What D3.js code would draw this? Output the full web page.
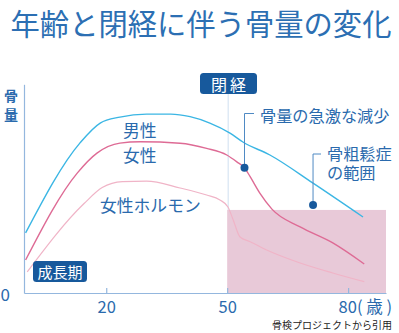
<!DOCTYPE html>
<html><head><meta charset="utf-8">
<script src="https://cdn.jsdelivr.net/npm/d3@7"></script>
<style>
html,body{margin:0;padding:0;background:#fff;}
text{font-family:"Noto Sans CJK JP","Noto Sans",sans-serif;}
</style></head>
<body>
<svg id="c" width="399" height="333"></svg>
<script>
// ---- data (age in years, bone mass in arbitrary units) ----
const maleAge   = [0, 13.5, 18.5, 23.4, 30, 36, 40.8, 45.7, 50.7, 53.9, 60.6, 71.3, 83.7];
const maleVal   = [28.2, 70.5, 79.8, 82.6, 84, 84, 82.8, 79.8, 75.1, 70.9, 64.8, 51.6, 35.7];
const femaleAge = [0, 12.8, 17.7, 23.4, 28.4, 38.3, 44.9, 49.9, 52.4, 54.3, 55.7, 58.1, 61.1, 68.1, 76.2, 84];
const femaleVal = [15.5, 56.3, 65.7, 70.4, 71, 70.3, 67.9, 64.8, 61.6, 58.8, 54.6, 46.9, 39.4, 31, 23.5, 13.6];
const hormoneAge = [0.4, 14.5, 19, 24, 30, 38.3, 44.9, 48.2, 50.2, 51.5, 53.2, 55.7, 59.8, 68.1, 76.2, 84];
const hormoneVal = [9.9, 42, 49.5, 52.3, 52.5, 49.3, 46, 43.7, 40.4, 34.3, 26.3, 24.1, 20.2, 14.1, 9.4, 5.3];
const xTicks = [20, 50, 80];
const menopauseAge = 50;
const osteoThreshold = 39;          // osteoporosis range upper bound
const seriesLabels = ["男性", "女性", "女性ホルモン"];
const title = "年齢と閉経に伴う骨量の変化";
const yLabel = ["骨", "量"];
const annotations = [
  {age: 54.3, value: 58.8, lines: ["骨量の急激な減少"]},
  {age: 71.3, value: 41.3, lines: ["骨粗鬆症", "の範囲"]}
];

// ---- drawing ----
const svg = d3.select("#c");
const x = d3.scaleLinear().domain([-0.4, 89.4]).range([24, 386]);
const y = d3.scaleLinear().domain([0, 98]).range([293, 84.3]);

const blueText = "#2a6aad";
const boxBlue = "#17599c";
const axisCol = "#94b7de";

// title
svg.append("text").attr("x", 201).attr("y", 22)
  .attr("text-anchor", "middle").attr("dominant-baseline", "central")
  .attr("font-size", 29.3).attr("fill", "#2c6fb3").text(title);

// osteoporosis range rect
svg.append("rect")
  .attr("x", x(menopauseAge)).attr("y", y(osteoThreshold))
  .attr("width", x(89.4) - x(menopauseAge)).attr("height", y(0) - y(osteoThreshold))
  .attr("fill", "#e8c9d8");

// menopause vertical line (above rect only)
svg.append("line")
  .attr("x1", x(menopauseAge)+1).attr("x2", x(menopauseAge)+1)
  .attr("y1", 94).attr("y2", y(osteoThreshold))
  .attr("stroke", "#cfdff0").attr("stroke-width", 1);

// axes
const xAxis = d3.axisBottom(x).tickValues(xTicks).tickSizeInner(-5).tickSizeOuter(0).tickPadding(8)
  .tickFormat(d => d === 80 ? "80( 歳 )" : d);
const gx = svg.append("g").attr("transform", `translate(0,${y(0)})`).call(xAxis);
gx.select(".domain").attr("stroke", axisCol).attr("stroke-width", 1.2);
gx.selectAll(".tick line").attr("stroke", axisCol).attr("stroke-width", 1.2);
gx.selectAll(".tick text").attr("font-size", 16.5).attr("fill", blueText)
  .attr("font-family", "'Noto Sans CJK JP','Noto Sans',sans-serif")
  .attr("dy", null).attr("y", 12.5).attr("dominant-baseline", "central");
gx.selectAll(".tick text").filter(d => d === 80).attr("text-anchor", "start").attr("x", -10);

const yAxis = d3.axisLeft(y).tickValues([0]).tickSize(0).tickPadding(14);
const gy = svg.append("g").attr("transform", `translate(${x(-0.4)},0)`).call(yAxis);
gy.select(".domain").attr("stroke", axisCol).attr("stroke-width", 1.2);
gy.selectAll(".tick text").attr("font-size", 17).attr("fill", blueText)
  .attr("font-family", "'Noto Sans CJK JP','Noto Sans',sans-serif")
  .attr("dy", null).attr("dominant-baseline", "central");

// y label (vertical)
yLabel.forEach((ch, i) => {
  svg.append("text").attr("x", 11).attr("y", 94.5 + i*19)
    .attr("text-anchor", "middle").attr("dominant-baseline", "central")
    .attr("font-size", 14).attr("font-weight", "bold").attr("fill", blueText).text(ch);
});

// lines
const line = d3.line().x(d => x(d[0])).y(d => y(d[1])).curve(d3.curveMonotoneX);
const zip = (a, b) => a.map((v, i) => [v, b[i]]);
svg.append("path").attr("d", line(zip(hormoneAge, hormoneVal)))
  .attr("fill", "none").attr("stroke", "#f0b4c7").attr("stroke-width", 1.2);
svg.append("path").attr("d", line(zip(femaleAge, femaleVal)))
  .attr("fill", "none").attr("stroke", "#de6b95").attr("stroke-width", 1.4);
svg.append("path").attr("d", line(zip(maleAge, maleVal)))
  .attr("fill", "none").attr("stroke", "#3bb6e4").attr("stroke-width", 1.4);

// series labels
const lblPos = [[123, 130], [123, 155], [100, 205]];
seriesLabels.forEach((t, i) => {
  svg.append("text").attr("x", lblPos[i][0]).attr("y", lblPos[i][1])
    .attr("dominant-baseline", "central").attr("font-size", 16.8)
    .attr("fill", blueText).text(t);
});

// annotations
const annoText = [[260, 115], [327, 153]];
const annoCorner = [113.5, 154];
annotations.forEach((a, i) => {
  const px = x(a.age), py = y(a.value);
  svg.append("path")
    .attr("d", `M${px},${py}V${annoCorner[i]}H${annoText[i][0]-6}`)
    .attr("fill", "none").attr("stroke", "#4f8ac4").attr("stroke-width", 1);
  svg.append("circle").attr("cx", px).attr("cy", py).attr("r", 4).attr("fill", boxBlue);
  const t = svg.append("text").attr("x", annoText[i][0]).attr("y", annoText[i][1])
    .attr("dominant-baseline", "central").attr("font-size", 16.2).attr("fill", blueText);
  a.lines.forEach((s, j) => {
    t.append("tspan").attr("x", annoText[i][0]).attr("dy", j === 0 ? 0 : 19)
      .attr("dominant-baseline", "central").text(s);
  });
});

// boxes
function box(x0, y0, w, h, label, fs, ls) {
  svg.append("rect").attr("x", x0).attr("y", y0).attr("width", w).attr("height", h)
    .attr("rx", 3.5).attr("fill", boxBlue);
  svg.append("text").attr("x", x0 + w/2 + (ls||0)/2).attr("y", y0 + h/2)
    .attr("text-anchor", "middle").attr("dominant-baseline", "central")
    .attr("font-size", fs).attr("letter-spacing", ls || 0).attr("fill", "#fff").text(label);
}
box(200, 73, 57, 21, "閉経", 16, 3);
box(33, 261, 54, 21, "成長期", 15);

// source
svg.append("text").attr("x", 392).attr("y", 324)
  .attr("text-anchor", "end").attr("dominant-baseline", "central")
  .attr("font-size", 10).attr("fill", "#222").text("骨検プロジェクトから引用");
</script>
</body></html>
